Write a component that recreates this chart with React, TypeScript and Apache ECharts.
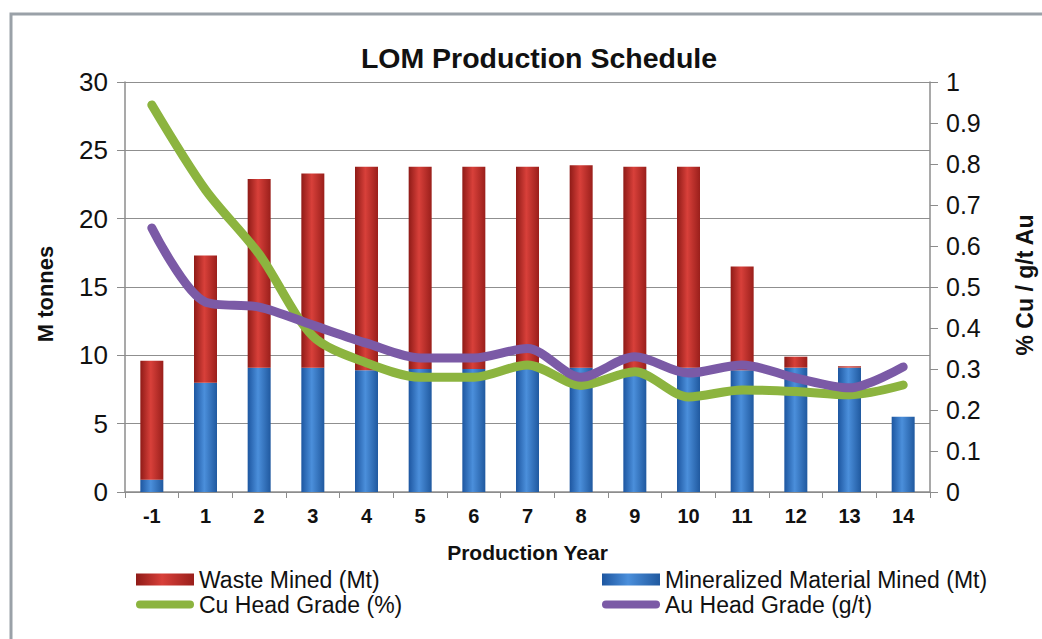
import React, { useEffect, useRef } from "react";
import * as echarts from "echarts";

const categories = ["-1", "1", "2", "3", "4", "5", "6", "7", "8", "9", "10", "11", "12", "13", "14"];
const mineralized = [0.9, 8.0, 9.1, 9.1, 8.9, 9.0, 9.0, 9.0, 9.1, 9.0, 9.1, 8.9, 9.1, 9.1, 5.5];
const waste = [8.7, 9.3, 13.8, 14.2, 14.9, 14.8, 14.8, 14.8, 14.8, 14.8, 14.7, 7.6, 0.8, 0.1, 0];
const cuGrade = [0.944, 0.737, 0.58, 0.38, 0.315, 0.28, 0.28, 0.31, 0.26, 0.293, 0.232, 0.249, 0.245, 0.237, 0.261];
const auGrade = [0.644, 0.463, 0.451, 0.407, 0.363, 0.327, 0.327, 0.35, 0.28, 0.33, 0.29, 0.31, 0.278, 0.254, 0.305];

const FONT = "'Liberation Sans', Arial, sans-serif";

export default function App() {
  const ref = useRef<HTMLDivElement>(null);
  useEffect(() => {
    document.body.style.margin = "0";
    const chart = echarts.init(ref.current!, null, { renderer: "svg" });
    const redGrad = new echarts.graphic.LinearGradient(0, 0, 1, 0, [
      { offset: 0, color: "#8f1b17" },
      { offset: 0.45, color: "#d8403a" },
      { offset: 1, color: "#9a1f1b" },
    ]);
    const blueGrad = new echarts.graphic.LinearGradient(0, 0, 1, 0, [
      { offset: 0, color: "#1d56a0" },
      { offset: 0.45, color: "#4b8fdb" },
      { offset: 1, color: "#20599f" },
    ]);
    const barIcon = "path://M0,0h58v12h-58z";
    const lineIcon = "path://M4,0h50a4,4 0 0 1 0,8h-50a4,4 0 0 1 0,-8z";
    const legendText = { fontFamily: FONT, fontSize: 23, color: "#111" };
    chart.setOption({
      animation: false,
      backgroundColor: "#ffffff",
      textStyle: { fontFamily: FONT },
      title: {
        text: "LOM Production Schedule",
        left: 534,
        textAlign: "center",
        top: 38,
        textStyle: { fontFamily: FONT, fontSize: 28.5, fontWeight: "bold", color: "#111" },
      },
      graphic: [
        {
          type: "rect",
          shape: { x: 11, y: 14, width: 1040, height: 640 },
          style: { fill: "none", stroke: "#9aa1a8", lineWidth: 3 },
          silent: true,
        },
        {
          type: "text",
          x: 45,
          y: 294,
          rotation: Math.PI / 2,
          style: {
            text: "M tonnes",
            fontFamily: FONT,
            fontSize: 22,
            fontWeight: "bold",
            fill: "#111",
            align: "center",
            verticalAlign: "middle",
          },
        },
        {
          type: "text",
          x: 1025,
          y: 285,
          rotation: Math.PI / 2,
          style: {
            text: "% Cu / g/t Au",
            fontFamily: FONT,
            fontSize: 23,
            fontWeight: "bold",
            fill: "#111",
            align: "center",
            verticalAlign: "middle",
          },
        },
      ],
      legend: [
        {
          orient: "vertical",
          left: 131,
          top: 563,
          itemWidth: 58,
          itemHeight: 12,
          itemGap: 2,
          textStyle: legendText,
          data: [
            { name: "Waste Mined (Mt)", icon: barIcon },
            { name: "Cu Head Grade (%)", icon: lineIcon },
          ],
        },
        {
          orient: "vertical",
          left: 597,
          top: 563,
          itemWidth: 58,
          itemHeight: 12,
          itemGap: 2,
          textStyle: legendText,
          data: [
            { name: "Mineralized Material Mined (Mt)", icon: barIcon },
            { name: "Au Head Grade (g/t)", icon: lineIcon },
          ],
        },
      ],
      grid: { left: 125, right: 112, top: 82, bottom: 147 },
      xAxis: {
        type: "category",
        data: categories,
        boundaryGap: true,
        name: "Production Year",
        nameLocation: "middle",
        nameGap: 50,
        nameTextStyle: { fontFamily: FONT, fontSize: 21, fontWeight: "bold", color: "#111" },
        axisLine: { lineStyle: { color: "#8c8c8c", width: 1.5 } },
        axisTick: { show: true, length: 6, lineStyle: { color: "#8c8c8c" } },
        axisLabel: { fontFamily: FONT, fontSize: 20, fontWeight: "bold", color: "#111", margin: 14 },
      },
      yAxis: [
        {
          type: "value",
          min: 0,
          max: 30,
          interval: 5,
          axisLine: { show: true, lineStyle: { color: "#8c8c8c", width: 1.5 } },
          axisTick: { show: true, length: 8, lineStyle: { color: "#8c8c8c" } },
          axisLabel: { fontFamily: FONT, fontSize: 26, color: "#111", margin: 17 },
          splitLine: { show: true, lineStyle: { color: "#8f8f8f", width: 1.2 } },
        },
        {
          type: "value",
          min: 0,
          max: 1,
          interval: 0.1,
          position: "right",
          axisLine: { show: true, lineStyle: { color: "#8c8c8c", width: 1.5 } },
          axisTick: { show: true, length: 8, lineStyle: { color: "#8c8c8c" } },
          axisLabel: { fontFamily: FONT, fontSize: 25, color: "#111", margin: 16 },
          splitLine: { show: false },
        },
      ],
      series: [
        {
          name: "Mineralized Material Mined (Mt)",
          type: "bar",
          stack: "mined",
          barWidth: 23,
          data: mineralized,
          itemStyle: { color: blueGrad },
        },
        {
          name: "Waste Mined (Mt)",
          type: "bar",
          stack: "mined",
          barWidth: 23,
          data: waste,
          itemStyle: { color: redGrad },
        },
        {
          name: "Cu Head Grade (%)",
          type: "line",
          yAxisIndex: 1,
          smooth: 0.3,
          symbol: "none",
          data: cuGrade,
          lineStyle: { color: "#8cb43f", width: 9, cap: "round", join: "round" },
          itemStyle: { color: "#8cb43f" },
        },
        {
          name: "Au Head Grade (g/t)",
          type: "line",
          yAxisIndex: 1,
          smooth: 0.3,
          symbol: "none",
          data: auGrade,
          lineStyle: { color: "#7b5aa6", width: 9, cap: "round", join: "round" },
          itemStyle: { color: "#7b5aa6" },
        },
      ],
    });
    return () => chart.dispose();
  }, []);
  return (
    <div
      ref={ref}
      style={{ position: "fixed", left: 0, top: 0, width: 1042, height: 639 }}
    />
  );
}
